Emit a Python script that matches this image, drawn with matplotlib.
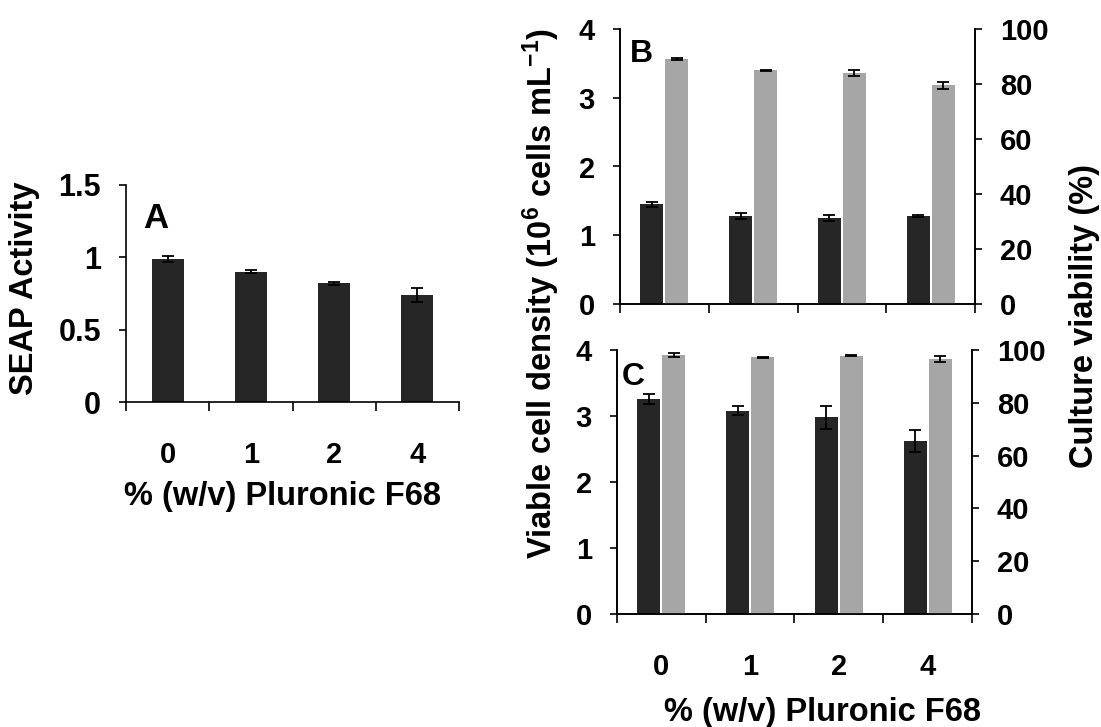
import numpy as np
import matplotlib
matplotlib.use('Agg')
import matplotlib.pyplot as plt

plt.rcParams['font.family'] = ['Liberation Sans', 'DejaVu Sans']
plt.rcParams['font.weight'] = 'bold'
plt.rcParams['mathtext.default'] = 'regular'

# categorias (% w/v Pluronic F68)
categorias = ['0', '1', '2', '4']

# painel A - atividade SEAP
seap = [0.99, 0.90, 0.82, 0.74]
seap_err = [0.02, 0.01, 0.01, 0.05]

# painel B - densidade celular viavel e viabilidade
densB = [1.45, 1.28, 1.25, 1.28]
densB_err = [0.04, 0.05, 0.04, 0.01]
viabB = [89.0, 85.0, 84.0, 79.5]
viabB_err = [0.3, 0.2, 1.1, 1.3]

# painel C
densC = [3.26, 3.08, 2.98, 2.62]
densC_err = [0.08, 0.07, 0.17, 0.17]
viabC = [98.0, 97.3, 97.9, 96.6]
viabC_err = [0.7, 0.2, 0.1, 1.1]

escuro = '#262626'
cinza = '#a6a6a6'
W, H = 1101, 727
fs_tick = 21
fs_label = 23.5

def caixa(x0, x1, ytop, ybot):
    return [x0 / W, 1 - ybot / H, (x1 - x0) / W, (ybot - ytop) / H]

def estilo_x(ax, mostrar_rotulos=True):
    ax.set_xlim(-0.5, 3.5)
    ax.set_xticks(np.arange(-0.5, 4, 1))
    ax.set_xticklabels([])
    ax.set_xticks(np.arange(4), minor=True)
    ax.set_xticklabels(categorias if mostrar_rotulos else [], minor=True)
    ax.tick_params(axis='x', which='major', direction='out', length=6.5, width=1.2)
    ax.tick_params(axis='x', which='minor', length=0, pad=28, labelsize=fs_tick)
    ax.spines['top'].set_visible(False)
    for s in ax.spines.values():
        s.set_linewidth(1.2)

def estilo_y(ax, tam=fs_tick):
    ax.tick_params(axis='y', direction='out', length=5, width=1.2, pad=13, labelsize=tam)

fig = plt.figure(figsize=(W / 100, H / 100), dpi=100)

# ---- painel A
axA = fig.add_axes(caixa(126, 459, 185, 402))
x = np.arange(4)
axA.bar(x, seap, width=0.385, color=escuro, yerr=seap_err,
        error_kw=dict(ecolor='black', elinewidth=1.3, capsize=4.5, capthick=1.3))
estilo_x(axA)
axA.spines['right'].set_visible(False)
axA.set_ylim(0, 1.5)
axA.set_yticks([0, 0.5, 1, 1.5])
axA.set_yticklabels(['0', '0.5', '1', '1.5'])
estilo_y(axA, 22)
fig.text(143 / W, 1 - 228 / H, 'A', fontsize=25, fontweight='bold', va='baseline')
fig.text(283 / W, 1 - 497 / H, '% (w/v) Pluronic F68', fontsize=fs_label,
         fontweight='bold', ha='center', va='center')
fig.text(25 / W, 1 - 288 / H, 'SEAP Activity', fontsize=fs_label, fontweight='bold',
         rotation=90, ha='center', va='center')

# ---- paineis B e C
def painel(caixa_px, dens, dens_err, viab, viab_err, letra, pos_letra, rotulos):
    ax = fig.add_axes(caixa(*caixa_px))
    ax2 = ax.twinx()
    ek = dict(ecolor='black', elinewidth=1.3, capsize=4.5, capthick=1.3)
    ax.bar(x - 0.14, dens, width=0.26, color=escuro, yerr=dens_err, error_kw=ek)
    ax2.bar(x + 0.14, viab, width=0.26, color=cinza, yerr=viab_err, error_kw=ek)
    estilo_x(ax, rotulos)
    ax2.spines['top'].set_visible(False)
    for s in ax2.spines.values():
        s.set_linewidth(1.2)
    ax.set_ylim(0, 4)
    ax.set_yticks([0, 1, 2, 3, 4])
    ax2.set_ylim(0, 100)
    ax2.set_yticks([0, 20, 40, 60, 80, 100])
    estilo_y(ax)
    estilo_y(ax2)
    fig.text(pos_letra[0] / W, 1 - pos_letra[1] / H, letra, fontsize=23,
             fontweight='bold', va='baseline')
    return ax

axB = painel((620, 975, 29, 304), densB, densB_err, viabB, viabB_err, 'B', (630, 62), False)
axC = painel((617, 972, 350, 614), densC, densC_err, viabC, viabC_err, 'C', (622, 385), True)

fig.text(822 / W, 1 - 712 / H, '% (w/v) Pluronic F68', fontsize=fs_label,
         fontweight='bold', ha='center', va='center')
fig.text(541 / W, 1 - 293 / H, 'Viable cell density (10$^{6}$ cells mL$^{-1}$)',
         fontsize=fs_label, fontweight='bold', rotation=90, ha='center', va='center')
fig.text(1084 / W, 1 - 316 / H, 'Culture viability (%)', fontsize=fs_label,
         fontweight='bold', rotation=90, ha='center', va='center')

fig.savefig('out.png', dpi=100)
